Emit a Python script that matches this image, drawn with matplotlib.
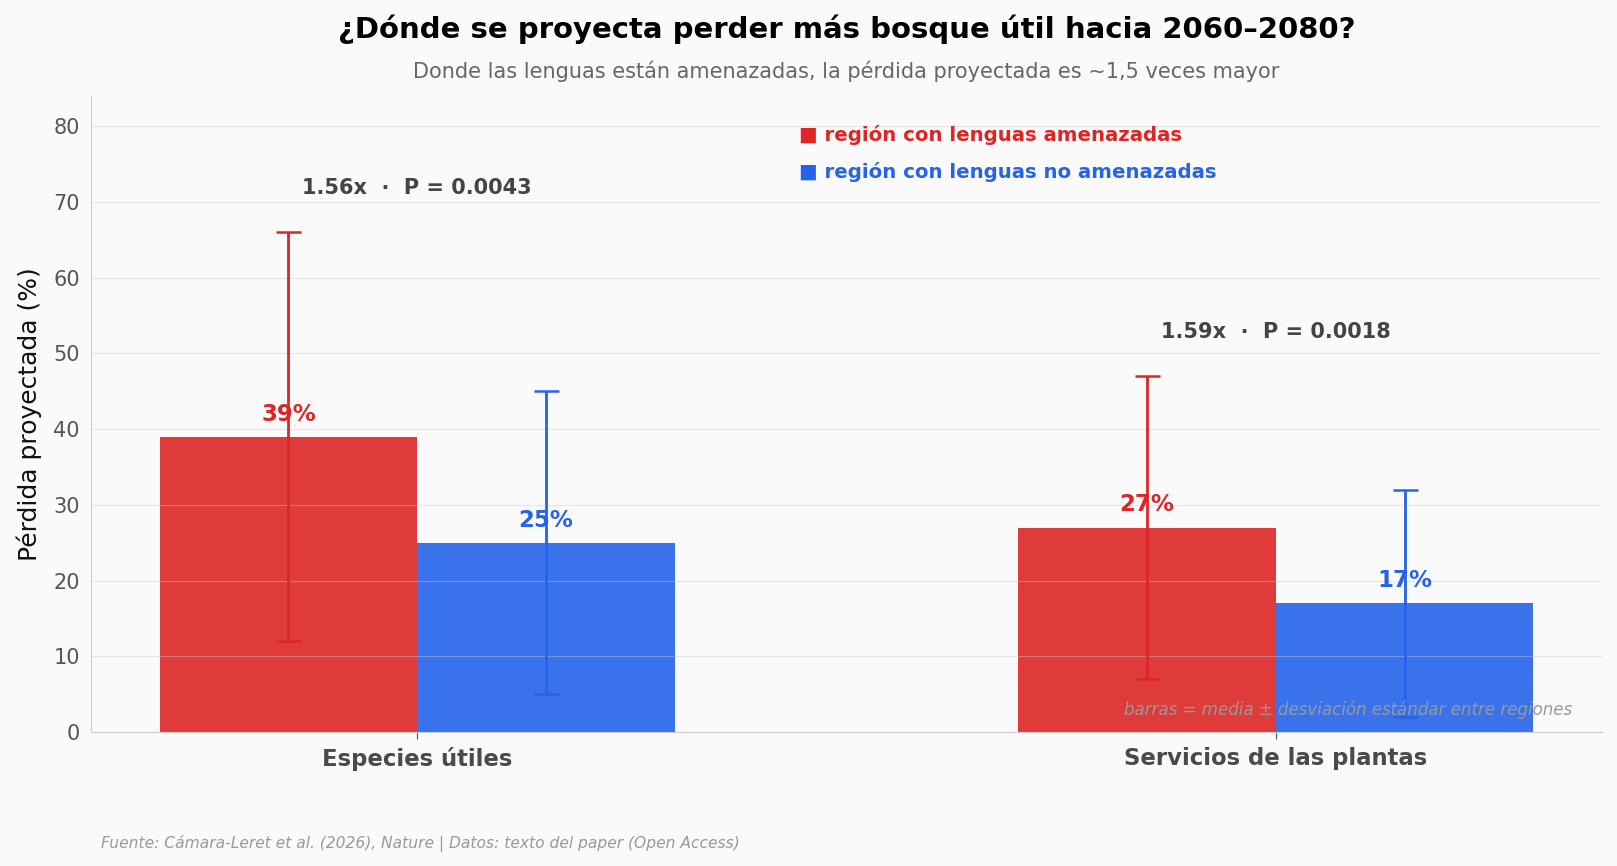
import matplotlib
matplotlib.use("Agg")
import matplotlib.pyplot as plt
import numpy as np

categories = ["Especies útiles", "Servicios de las plantas"]
threatened_mean = [39, 27]
threatened_sd = [27, 20]
safe_mean = [25, 17]
safe_sd = [20, 15]
ratio_labels = ["1.56x  ·  P = 0.0043", "1.59x  ·  P = 0.0018"]

RED = "#dc2626"
BLUE = "#2563eb"
BG = "#fafafa"

fig = plt.figure(figsize=(16.17, 8.66), dpi=100, facecolor=BG)
ax = fig.add_axes([0.0563, 0.1547, 0.9344, 0.7344])
ax.set_facecolor(BG)

x = np.arange(len(categories))
w = 0.3
ax.bar(x - w / 2, threatened_mean, w, color=RED, alpha=0.9)
ax.bar(x + w / 2, safe_mean, w, color=BLUE, alpha=0.9)
ax.errorbar(x - w / 2, threatened_mean, yerr=threatened_sd, fmt="none",
            ecolor=RED, elinewidth=2, capsize=9, capthick=1.8)
ax.errorbar(x + w / 2, safe_mean, yerr=safe_sd, fmt="none",
            ecolor=BLUE, elinewidth=2, capsize=9, capthick=1.8)

for i in range(len(categories)):
    ax.text(x[i] - w / 2, threatened_mean[i] + 3, f"{threatened_mean[i]}%",
            ha="center", va="center", color=RED, fontsize=16.5, fontweight="bold")
    ax.text(x[i] + w / 2, safe_mean[i] + 3, f"{safe_mean[i]}%",
            ha="center", va="center", color=BLUE, fontsize=16.5, fontweight="bold")
    top = max(threatened_mean[i] + threatened_sd[i], safe_mean[i] + safe_sd[i])
    ax.text(x[i], top + 5.8, ratio_labels[i], ha="center", va="center",
            color="#444444", fontsize=15, fontweight="bold")

ax.set_ylim(0, 84)
ax.set_yticks(range(0, 81, 10))
ax.grid(axis="y", color="#cccccc", alpha=0.4, linewidth=0.8)
ax.set_xticks(x)
ax.set_xticklabels(categories, fontsize=16.4, fontweight="bold", color="#4a4a4a")
ax.tick_params(axis="x", length=5, color="#555555", pad=6)
ax.tick_params(axis="y", length=0, labelsize=15, labelcolor="#555555", pad=8)
for s in ["top", "right"]:
    ax.spines[s].set_visible(False)
for s in ["left", "bottom"]:
    ax.spines[s].set_color("#cccccc")
ax.set_ylabel("Pérdida proyectada (%)", fontsize=18, color="#111111", labelpad=8)

ax.text(0.4686, 0.939, "■ región con lenguas amenazadas", transform=ax.transAxes,
        color=RED, fontsize=14.2, fontweight="bold", va="center", ha="left")
ax.text(0.4686, 0.880, "■ región con lenguas no amenazadas", transform=ax.transAxes,
        color=BLUE, fontsize=14.2, fontweight="bold", va="center", ha="left")

ax.text(0.98, 0.035, "barras = media ± desviación estándar entre regiones",
        transform=ax.transAxes, ha="right", va="center", fontsize=12,
        style="italic", color="#999999")

cx = 0.0563 + 0.9344 / 2
fig.text(cx, 1 - 29 / 866, "¿Dónde se proyecta perder más bosque útil hacia 2060–2080?",
         ha="center", va="center", fontsize=21, fontweight="bold", color="black")
fig.text(cx, 1 - 71 / 866, "Donde las lenguas están amenazadas, la pérdida proyectada es ~1,5 veces mayor",
         ha="center", va="center", fontsize=15, color="#666666")
fig.text(101 / 1617, 1 - 843 / 866,
         "Fuente: Cámara-Leret et al. (2026), Nature | Datos: texto del paper (Open Access)",
         ha="left", va="center", fontsize=11.2, style="italic", color="#999999")

fig.savefig("out.png", dpi=100, facecolor=BG)
